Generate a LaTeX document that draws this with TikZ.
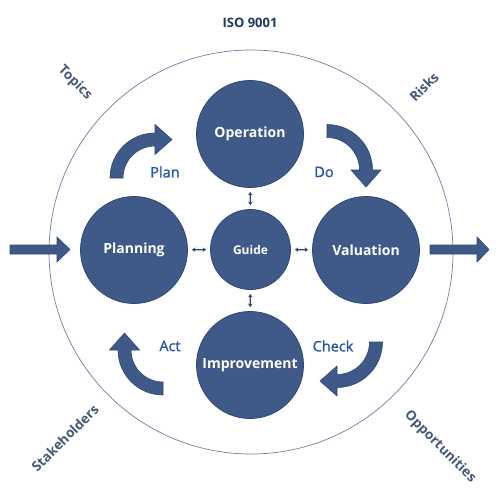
\documentclass[tikz,border=0pt]{standalone}
\usepackage{fontspec}
\setmainfont{Open Sans}
\newfontfamily\semib[FakeBold=1.2]{Open Sans}
\usetikzlibrary{calc,arrows.meta}
\definecolor{cfill}{HTML}{3F5A88}
\definecolor{cline}{HTML}{2C477A}
\definecolor{lblue}{HTML}{2556A8}
\definecolor{slate}{HTML}{45587A}
\definecolor{navy}{HTML}{1F3864}
\definecolor{ring}{HTML}{7080A0}
\newcommand{\cycarrow}[4]{%
  \filldraw[cyc] ($(#1)+(#2:#4+6.5)$) arc[start angle=#2,end angle=#3,radius=#4+6.5]
   -- ($(#1)+(#3:#4+15)$) -- ($(#1)+(#3:#4)+(#3+90:17)$) -- ($(#1)+(#3:#4-15)$)
   -- ($(#1)+(#3:#4-6.5)$) arc[start angle=#3,end angle=#2,radius=#4-6.5] -- cycle;}
\begin{document}
\begin{tikzpicture}[x=1pt,y=-1pt,
  bigc/.style={circle,fill=cfill,draw=cline,line width=0.8pt,minimum size=107pt,inner sep=0pt,
    text=white,font=\fontsize{14}{16}\selectfont\bfseries},
  smallc/.style={bigc,minimum size=80pt,font=\fontsize{12}{14}\selectfont\bfseries},
  cyc/.style={fill=cfill,draw=cline,line width=0.6pt,line join=miter},
  dbl/.style={{Stealth[length=3.5pt,width=4.5pt]}-{Stealth[length=3.5pt,width=4.5pt]},
    line width=1.1pt,draw=cline,shorten <=4pt,shorten >=4pt},
  steplbl/.style={text=lblue,font=\fontsize{14.5}{16}\selectfont\semib},
  outlbl/.style={text=slate,font=\fontsize{13.5}{16}\selectfont\bfseries}]
\useasboundingbox (0,0) rectangle (500,500);
\fill[white] (0,0) rectangle (500,500);
% outer ring
\coordinate (ctr) at (251,252);
\draw[ring,line width=0.7pt] (ctr) circle[radius=202];
% circles
\node[bigc] (op) at (250,134) {Operation};
\node[bigc] (plan) at (134,250) {Planning};
\node[bigc] (val) at (366,250) {Valuation};
\node[bigc] (imp) at (250,365) {Improvement};
\node[smallc] (guide) at (250.5,249.5) {Guide};
% double arrows
\draw[dbl] (op) -- (guide);
\draw[dbl] (guide) -- (imp);
\draw[dbl] (plan) -- (guide);
\draw[dbl] (guide) -- (val);
% cycle arrows
\coordinate (cp) at (155,178);
\coordinate (cd) at (327,170);
\coordinate (ca) at (163,350);
\coordinate (cc) at (337,342);
\cycarrow{cp}{180}{270}{38.5}
\cycarrow{cd}{270}{360}{39}
\cycarrow{ca}{90}{180}{38.5}
\cycarrow{cc}{0}{90}{39}
% step labels
\node[steplbl] (lplan) at (165,172) {Plan};
\node[steplbl] (ldo) at (324,172) {Do};
\node[steplbl] (lact) at (170,346) {Act};
\node[steplbl] (lcheck) at (333,346) {Check};
% in / out arrows
\coordinate (inA) at (10,249.5);
\coordinate (outA) at (430,249.5);
\filldraw[cyc] (inA) ++(0,-4.5) -- ++(47,0) -- ++(0,-8) -- ++(13,12.5) -- ++(-13,12.5) -- ++(0,-8) -- ++(-47,0) -- cycle;
\filldraw[cyc] (outA) ++(0,-4.5) -- ++(47,0) -- ++(0,-8) -- ++(12,12.5) -- ++(-12,12.5) -- ++(0,-8) -- ++(-47,0) -- cycle;
% outer labels
\node[text=navy,font=\fontsize{13}{16}\selectfont\bfseries] (iso) at (250,23) {ISO 9001};
\node[outlbl,rotate=-45] (topics) at (75,83) {Topics};
\node[outlbl,rotate=45] (risks) at (424,87) {Risks};
\node[outlbl,rotate=45] (stake) at (65,438) {Stakeholders};
\node[outlbl,rotate=-45] (opp) at (440,447) {Opportunities};
\end{tikzpicture}
\end{document}
